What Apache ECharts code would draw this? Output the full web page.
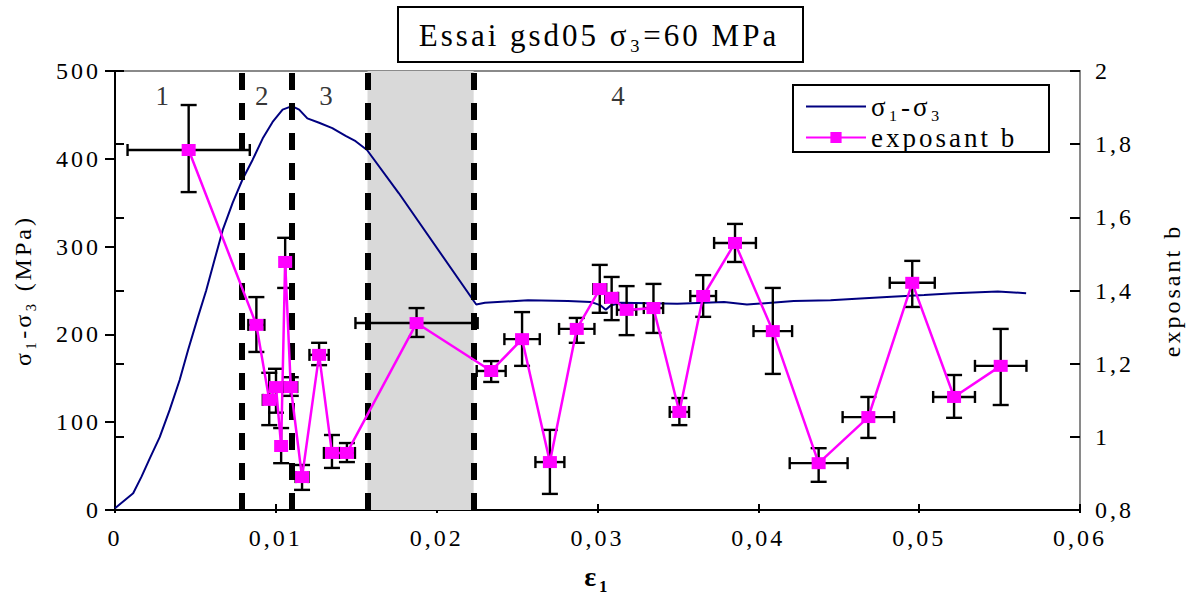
<!DOCTYPE html>
<html>
<head>
<meta charset="utf-8">
<script src="https://cdn.jsdelivr.net/npm/echarts@6/dist/echarts.min.js"></script>
<style>
  html, body { margin: 0; padding: 0; background: #fff; }
  #chart { width: 1192px; height: 597px; }
  #chart svg text { letter-spacing: 3px; }
</style>
</head>
<body>
<div id="chart"></div>
<script>
// ---- data ----
// deviatoric stress curve (σ1-σ3, MPa) vs axial strain ε1
const curveStrain = [0, 0.00113, 0.00165, 0.00217, 0.00278, 0.0034, 0.00402, 0.00454, 0.00516, 0.00567,
  0.00619, 0.0067, 0.00732, 0.00794, 0.00856, 0.00918, 0.0098, 0.01042, 0.011, 0.01145, 0.01196, 0.01269,
  0.01351, 0.01434, 0.01496, 0.01567, 0.01764, 0.02246, 0.023, 0.02568, 0.02816, 0.02958, 0.0302, 0.03051,
  0.03082, 0.03144, 0.03496, 0.03787, 0.03929, 0.0422, 0.04449, 0.04635, 0.04827, 0.05031, 0.05217, 0.05489, 0.05665];
const curveStress = [2, 19, 38, 59, 83, 114, 148, 182, 220, 250,
  285, 319, 350, 377, 399, 423, 442, 456, 460, 456, 446, 441,
  435, 426, 420, 410, 361, 234, 236, 239, 238, 237, 233, 228,
  233, 236, 235, 237, 234, 238, 239, 241, 243, 245, 247, 249, 247];

// exponent b with error bars
const bStrain = [0.00458, 0.00879, 0.00959, 0.01001, 0.01033, 0.01058, 0.01093, 0.01163, 0.01269, 0.01349,
  0.01442, 0.01875, 0.02339, 0.02531, 0.02704, 0.02871, 0.03014, 0.03088, 0.03181, 0.03348,
  0.03509, 0.03657, 0.03855, 0.0409, 0.04375, 0.04684, 0.04957, 0.05217, 0.05507];
const bValue = [1.784, 1.306, 1.101, 1.136, 0.975, 1.478, 1.136, 0.89, 1.224, 0.956,
  0.956, 1.311, 1.18, 1.267, 0.931, 1.295, 1.404, 1.38, 1.347, 1.352,
  1.068, 1.385, 1.53, 1.289, 0.928, 1.054, 1.421, 1.109, 1.194];
const bErrMinus = [0.115, 0.074, 0.069, 0.07, 0.047, 0.071, 0.024, 0.035, 0.028, 0.041,
  0.025, 0.038, 0.03, 0.073, 0.087, 0.038, 0.065, 0.061, 0.069, 0.068,
  0.036, 0.057, 0.052, 0.117, 0.051, 0.057, 0.066, 0.057, 0.107];
const bErrPlus = [0.123, 0.076, 0.074, 0.05, 0.049, 0.066, 0.027, 0.033, 0.033, 0.049,
  0.027, 0.041, 0.027, 0.074, 0.088, 0.03, 0.066, 0.057, 0.065, 0.066,
  0.038, 0.057, 0.052, 0.118, 0.041, 0.055, 0.06, 0.06, 0.101];
const strainErr = [0.0038, 0.0005, 0.0004, 0.0004, 0.0003, 0.0003, 0.0004, 0.0004, 0.0006, 0.0005,
  0.0005, 0.0038, 0.0009, 0.0011, 0.0009, 0.0011, 0.0004, 0.0004, 0.0006, 0.0006,
  0.0006, 0.0008, 0.0013, 0.0012, 0.0018, 0.0016, 0.0014, 0.0013, 0.0016];

// phase boundaries and labels
const phaseBounds = [0.0079, 0.011, 0.0157, 0.0223];
const shadedZone = [0.0157, 0.0223];
const phaseLabels = ['1', '2', '3', '4'];
const phaseLabelX = [0.00303, 0.00922, 0.01321, 0.03137];
const phaseLabelY = 471;

const xTicks = { min: 0, max: 0.06, interval: 0.01 };
const leftTicks = { min: 0, max: 500, interval: 100 };
const rightTicks = { min: 0.8, max: 2, interval: 0.2 };

const FONT = 'Liberation Serif';
const comma = v => String(+v.toFixed(3)).replace('.', ',');

const chart = echarts.init(document.getElementById('chart'), null, { renderer: 'svg' });

const errData = bStrain.map((x, i) => [x, bValue[i], strainErr[i], bValue[i] - bErrMinus[i], bValue[i] + bErrPlus[i]]);

const option = {
  backgroundColor: '#fff',
  animation: false,
  textStyle: { fontFamily: FONT, color: '#000' },
  grid: { left: 115, right: 107, top: 71, bottom: 87, show: true, borderColor: '#8a8a8a', borderWidth: 2, backgroundColor: '#fff' },
  legend: {
    data: [{ name: 'σ₁-σ₃', icon: 'path://M0,0 L60,0 L60,2 L0,2 Z' }, { name: 'exposant b' }],
    orient: 'vertical',
    left: 805, top: 93, padding: 0,
    itemWidth: 60, itemHeight: 14, itemGap: 4,
    symbolKeepAspect: true,
    textStyle: { fontFamily: FONT, fontSize: 27, color: '#000' },
    selectedMode: false
  },
  xAxis: [{
    type: 'value', min: xTicks.min, max: xTicks.max, interval: xTicks.interval,
    name: 'ε₁', nameLocation: 'middle', nameGap: 52,
    nameTextStyle: { fontFamily: FONT, fontSize: 28, fontWeight: 'bold', color: '#000' },
    axisLine: { lineStyle: { color: '#000', width: 2 } },
    axisTick: { inside: false, length: 3, lineStyle: { color: '#000', width: 2 } },
    axisLabel: { formatter: comma, fontFamily: FONT, fontSize: 24, color: '#000', margin: 16 },
    splitLine: { show: false }
  }, {
    type: 'value', min: xTicks.min, max: xTicks.max, interval: xTicks.interval, position: 'bottom',
    axisLine: { show: false },
    axisTick: { inside: true, length: 6, lineStyle: { color: '#000', width: 2 } },
    axisLabel: { show: false }, splitLine: { show: false }
  }],
  yAxis: [{
    type: 'value', min: leftTicks.min, max: leftTicks.max, interval: leftTicks.interval, position: 'left',
    name: 'σ₁-σ₃ (MPa)', nameLocation: 'middle', nameGap: 80, nameRotate: 90,
    nameTextStyle: { fontFamily: FONT, fontSize: 24, color: '#000' },
    axisLine: { show: true, lineStyle: { color: '#000', width: 2 } },
    axisTick: { show: true, inside: false, length: 10, lineStyle: { color: '#000', width: 2 } },
    axisLabel: { fontFamily: FONT, fontSize: 24, color: '#000', margin: 14 },
    splitLine: { show: false }
  }, {
    type: 'value', min: rightTicks.min, max: rightTicks.max, interval: rightTicks.interval, position: 'right',
    name: 'exposant b', nameLocation: 'middle', nameGap: 80, nameRotate: 90,
    nameTextStyle: { fontFamily: FONT, fontSize: 24, color: '#000' },
    axisLine: { show: true, lineStyle: { color: '#000', width: 2 } },
    axisTick: { show: true, inside: false, length: 9, lineStyle: { color: '#000', width: 2 } },
    axisLabel: { formatter: comma, fontFamily: FONT, fontSize: 24, color: '#000', margin: 15 },
    splitLine: { show: false }
  }, {
    type: 'value', min: rightTicks.min, max: rightTicks.max, interval: rightTicks.interval, position: 'right',
    axisLine: { show: false },
    axisTick: { show: true, inside: true, length: 10, lineStyle: { color: '#000', width: 2 } },
    axisLabel: { show: false }, splitLine: { show: false }
  }],
  graphic: [{
    type: 'rect', shape: { x: 398, y: 7, width: 405, height: 55 },
    style: { fill: '#fff', stroke: '#000', lineWidth: 2 }, z: 10
  }, {
    type: 'text', x: 599, y: 35, z: 11,
    style: { text: 'Essai gsd05 σ₃=60 MPa', fontFamily: FONT, fontSize: 31, fill: '#000', align: 'center', verticalAlign: 'middle' }
  }, {
    type: 'rect', shape: { x: 793, y: 85, width: 256, height: 67 },
    style: { fill: 'none', stroke: '#000', lineWidth: 2 }, z: 10
  }],
  series: [{
    name: 'phases', type: 'scatter', xAxisIndex: 0, yAxisIndex: 0, z: 1,
    symbolSize: 0, silent: true,
    data: phaseLabelX.map((x, i) => [x, phaseLabelY, phaseLabels[i]]),
    label: { show: true, position: 'inside', formatter: p => p.value[2], fontFamily: FONT, fontSize: 27, color: '#000' }
  }, {
    name: 'σ₁-σ₃', type: 'line', xAxisIndex: 0, yAxisIndex: 0, z: 2,
    symbol: 'none', showSymbol: false, color: '#000080',
    lineStyle: { color: '#000080', width: 2 },
    data: curveStrain.map((x, i) => [x, curveStress[i]]),
    markArea: {
      z: 1, silent: true,
      itemStyle: { color: '#d9d9d9', opacity: 1 },
      data: [[{ xAxis: shadedZone[0] }, { xAxis: shadedZone[1] }]]
    },
    markLine: {
      z: 3, silent: true, symbol: 'none', precision: 6, label: { show: false },
      lineStyle: { color: '#000', width: 6, type: [17, 13] },
      data: phaseBounds.map(v => ({ xAxis: v }))
    }
  }, {
    name: 'errors', type: 'custom', xAxisIndex: 0, yAxisIndex: 1, z: 4, silent: true,
    data: errData,
    encode: { x: 0, y: 1 },
    renderItem: (params, api) => {
      const x = api.value(0), y = api.value(1), xe = api.value(2), ylo = api.value(3), yhi = api.value(4);
      const top = api.coord([x, yhi]), bot = api.coord([x, ylo]);
      const lft = api.coord([x - xe, y]), rgt = api.coord([x + xe, y]);
      const cw = 8, ch = 6;
      const st = { stroke: '#000', lineWidth: 2.4 };
      const ln = (x1, y1, x2, y2) => ({ type: 'line', shape: { x1, y1, x2, y2 }, style: st });
      return {
        type: 'group',
        children: [
          ln(top[0], top[1], bot[0], bot[1]),
          ln(top[0] - cw, top[1], top[0] + cw, top[1]),
          ln(bot[0] - cw, bot[1], bot[0] + cw, bot[1]),
          ln(lft[0], lft[1], rgt[0], rgt[1]),
          ln(lft[0], lft[1] - ch, lft[0], lft[1] + ch),
          ln(rgt[0], rgt[1] - ch, rgt[0], rgt[1] + ch)
        ]
      };
    }
  }, {
    name: 'exposant b', type: 'line', xAxisIndex: 0, yAxisIndex: 1, z: 5,
    symbol: 'rect', symbolSize: [14, 12], showSymbol: true, color: '#ff00ff',
    lineStyle: { color: '#ff00ff', width: 2.5 },
    itemStyle: { color: '#ff00ff' },
    data: bStrain.map((x, i) => [x, bValue[i]])
  }]
};
chart.setOption(option);
</script>
</body>
</html>
